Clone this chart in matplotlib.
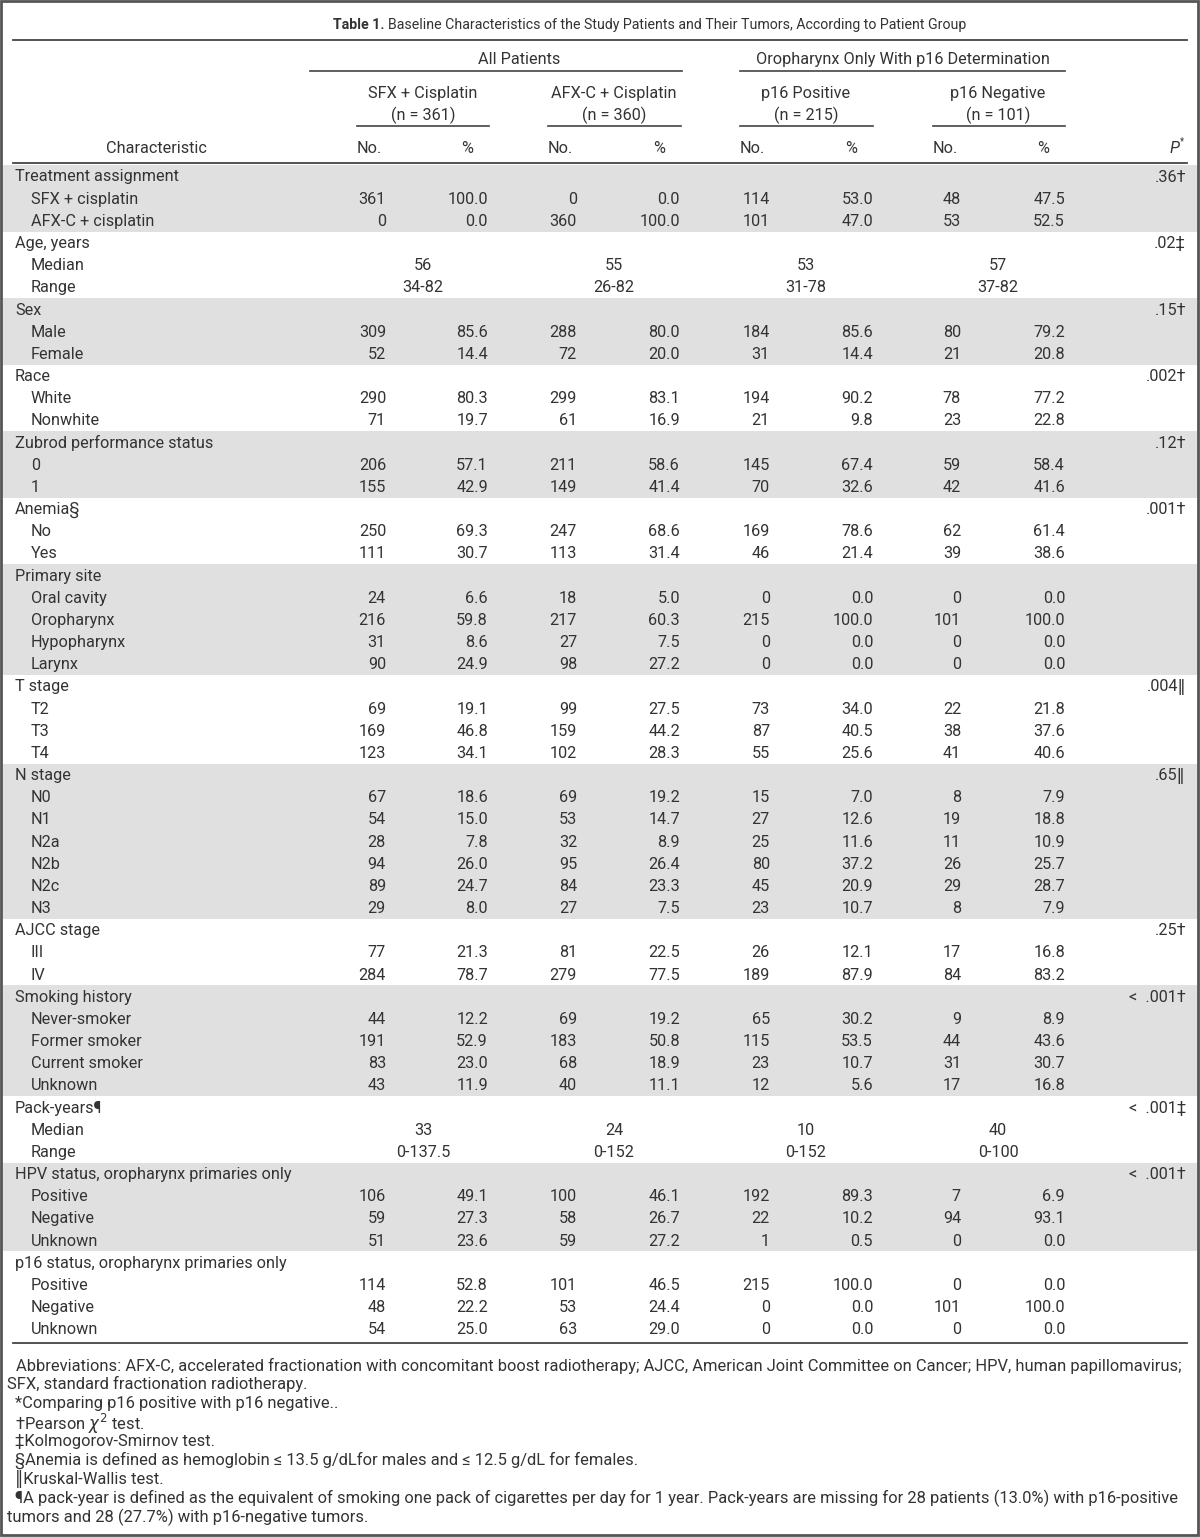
import matplotlib
matplotlib.use("Agg")
import matplotlib.pyplot as plt
from matplotlib.patches import Rectangle

plt.rcParams['font.family'] = ['Roboto', 'DejaVu Sans']

# ---- table content ----
groups = ["Treatment assignment", "Age, years", "Sex", "Race", "Zubrod performance status",
          "Anemia§", "Primary site", "T stage", "N stage", "AJCC stage", "Smoking history",
          "Pack-years¶", "HPV status, oropharynx primaries only", "p16 status, oropharynx primaries only"]
subrows = [["SFX + cisplatin", "AFX-C + cisplatin"], ["Median", "Range"], ["Male", "Female"],
           ["White", "Nonwhite"], ["0", "1"], ["No", "Yes"],
           ["Oral cavity", "Oropharynx", "Hypopharynx", "Larynx"], ["T2", "T3", "T4"],
           ["N0", "N1", "N2a", "N2b", "N2c", "N3"], ["III", "IV"],
           ["Never-smoker", "Former smoker", "Current smoker", "Unknown"], ["Median", "Range"],
           ["Positive", "Negative", "Unknown"], ["Positive", "Negative", "Unknown"]]
p_values = [".36†", ".02‡", ".15†", ".002†", ".12†", ".001†", "", ".004‖", ".65‖", ".25†",
            "<  .001†", "<  .001‡", "<  .001†", ""]

# summary-stat groups (median / range)
age_median = ["56", "55", "53", "57"]
age_range = ["34-82", "26-82", "31-78", "37-82"]
pack_median = ["33", "24", "10", "40"]
pack_range = ["0-137.5", "0-152", "0-152", "0-100"]

# count rows, in order (skipping the two median/range groups)
sfx_no = [361, 0, 309, 52, 290, 71, 206, 155, 250, 111, 24, 216, 31, 90, 69, 169, 123,
          67, 54, 28, 94, 89, 29, 77, 284, 44, 191, 83, 43, 106, 59, 51, 114, 48, 54]
sfx_pct = [100.0, 0.0, 85.6, 14.4, 80.3, 19.7, 57.1, 42.9, 69.3, 30.7, 6.6, 59.8, 8.6, 24.9,
           19.1, 46.8, 34.1, 18.6, 15.0, 7.8, 26.0, 24.7, 8.0, 21.3, 78.7, 12.2, 52.9, 23.0,
           11.9, 49.1, 27.3, 23.6, 52.8, 22.2, 25.0]
afx_no = [0, 360, 288, 72, 299, 61, 211, 149, 247, 113, 18, 217, 27, 98, 99, 159, 102,
          69, 53, 32, 95, 84, 27, 81, 279, 69, 183, 68, 40, 100, 58, 59, 101, 53, 63]
afx_pct = [0.0, 100.0, 80.0, 20.0, 83.1, 16.9, 58.6, 41.4, 68.6, 31.4, 5.0, 60.3, 7.5, 27.2,
           27.5, 44.2, 28.3, 19.2, 14.7, 8.9, 26.4, 23.3, 7.5, 22.5, 77.5, 19.2, 50.8, 18.9,
           11.1, 46.1, 26.7, 27.2, 46.5, 24.4, 29.0]
pos_no = [114, 101, 184, 31, 194, 21, 145, 70, 169, 46, 0, 215, 0, 0, 73, 87, 55,
          15, 27, 25, 80, 45, 23, 26, 189, 65, 115, 23, 12, 192, 22, 1, 215, 0, 0]
pos_pct = [53.0, 47.0, 85.6, 14.4, 90.2, 9.8, 67.4, 32.6, 78.6, 21.4, 0.0, 100.0, 0.0, 0.0,
           34.0, 40.5, 25.6, 7.0, 12.6, 11.6, 37.2, 20.9, 10.7, 12.1, 87.9, 30.2, 53.5, 10.7,
           5.6, 89.3, 10.2, 0.5, 100.0, 0.0, 0.0]
neg_no = [48, 53, 80, 21, 78, 23, 59, 42, 62, 39, 0, 101, 0, 0, 22, 38, 41,
          8, 19, 11, 26, 29, 8, 17, 84, 9, 44, 31, 17, 7, 94, 0, 0, 101, 0]
neg_pct = [47.5, 52.5, 79.2, 20.8, 77.2, 22.8, 58.4, 41.6, 61.4, 38.6, 0.0, 100.0, 0.0, 0.0,
           21.8, 37.6, 40.6, 7.9, 18.8, 10.9, 25.7, 28.7, 7.9, 16.8, 83.2, 8.9, 43.6, 30.7,
           16.8, 6.9, 93.1, 0.0, 0.0, 100.0, 0.0]

arm_titles = ["SFX + Cisplatin", "AFX-C + Cisplatin", "p16 Positive", "p16 Negative"]
arm_n = ["(n = 361)", "(n = 360)", "(n = 215)", "(n = 101)"]

footnotes = [
    (16, "Abbreviations: AFX-C, accelerated fractionation with concomitant boost radiotherapy; AJCC, American Joint Committee on Cancer; HPV, human papillomavirus;"),
    (7, "SFX, standard fractionation radiotherapy."),
    (15, "*Comparing p16 positive with p16 negative.."),
    (15, r"†Pearson $\chi^2$ test."),
    (15, "‡Kolmogorov-Smirnov test."),
    (15, "§Anemia is defined as hemoglobin ≤ 13.5 g/dLfor males and ≤ 12.5 g/dL for females."),
    (15, "‖Kruskal-Wallis test."),
    (15, "¶A pack-year is defined as the equivalent of smoking one pack of cigarettes per day for 1 year. Pack-years are missing for 28 patients (13.0%) with p16-positive"),
    (7, "tumors and 28 (27.7%) with p16-negative tumors."),
]

# ---- layout ----
W, H = 1200, 1537
fig = plt.figure(figsize=(W / 100, H / 100), dpi=100)
ax = fig.add_axes([0, 0, 1, 1])
ax.set_xlim(0, W)
ax.set_ylim(H, 0)
ax.axis('off')

txt = '#333333'
fs = 11.7
shade = '#e0e0e0'

arm_centers = [423, 614, 806, 998]
arm_spans = [(357, 489), (548, 681), (740, 873), (933, 1065)]
no_right = [386, 577, 770, 961]
pct_right = [488, 680, 873, 1065]
p_right = 1186

# border
ax.add_patch(Rectangle((1, 1), W - 3, H - 3, fill=False, edgecolor='#555555', lw=2))

# title
t1 = ax.text(333, 25, "Table 1.", fontsize=10.2, fontweight='bold', color=txt, va='center', ha='left')
fig.canvas.draw()
bb = t1.get_window_extent()
ax.text(333 + bb.width + 4, 25, "Baseline Characteristics of the Study Patients and Their Tumors, According to Patient Group",
        fontsize=10.2, color=txt, va='center', ha='left')

ax.plot([13, 1187], [40, 40], color='#444', lw=1.3)

# column headers
ax.text(519, 58, "All Patients", fontsize=fs, color=txt, ha='center', va='center_baseline')
ax.text(903, 58, "Oropharynx Only With p16 Determination", fontsize=fs, color=txt, ha='center', va='center_baseline')
ax.plot([310, 682], [71, 71], color='#444', lw=1.2)
ax.plot([740, 1065], [71, 71], color='#444', lw=1.2)
for c, (a, b), t, n in zip(arm_centers, arm_spans, arm_titles, arm_n):
    ax.text(c, 92, t, fontsize=fs, color=txt, ha='center', va='center_baseline')
    ax.text(c, 113, n, fontsize=fs, color=txt, ha='center', va='center_baseline')
    ax.plot([a, b], [126, 126], color='#444', lw=1.2)
    ax.text(a, 147, "No.", fontsize=fs, color=txt, ha='left', va='center_baseline')
    ax.text(b - 22, 147, "%", fontsize=fs, color=txt, ha='center', va='center_baseline')
ax.text(156, 147, "Characteristic", fontsize=fs, color=txt, ha='center', va='center_baseline')
ax.text(p_right - 6, 147, "P", fontsize=fs, color=txt, ha='right', va='center_baseline', style='italic')
ax.text(p_right - 6, 141, "*", fontsize=7, color=txt, ha='left', va='center')
ax.plot([13, 1187], [163, 163], color='#444', lw=1.3)

# body
y0, dy = 175.5, 22.17
row = 0
k = 0
for gi, (g, subs) in enumerate(zip(groups, subrows)):
    y_top = y0 + row * dy
    nrows = len(subs) + 1
    if gi % 2 == 0:
        ax.add_patch(Rectangle((3, y_top - 10.5), W - 6, nrows * dy, facecolor=shade,
                               edgecolor='none', zorder=0))
    ax.text(15, y_top, g, fontsize=fs, color=txt, ha='left', va='center_baseline')
    ax.text(p_right, y_top, p_values[gi], fontsize=fs, color=txt, ha='right', va='center_baseline')
    row += 1
    for si, s in enumerate(subs):
        y = y0 + row * dy
        ax.text(31, y, s, fontsize=fs, color=txt, ha='left', va='center_baseline')
        if g.startswith("Age") or g.startswith("Pack"):
            vals = (age_median, age_range) if g.startswith("Age") else (pack_median, pack_range)
            for c, v in zip(arm_centers, vals[si]):
                ax.text(c, y, v, fontsize=fs, color=txt, ha='center', va='center_baseline')
        else:
            nos = [sfx_no[k], afx_no[k], pos_no[k], neg_no[k]]
            pcts = [sfx_pct[k], afx_pct[k], pos_pct[k], neg_pct[k]]
            for xn, xp, n, p in zip(no_right, pct_right, nos, pcts):
                ax.text(xn, y, str(n), fontsize=fs, color=txt, ha='right', va='center_baseline')
                ax.text(xp, y, f"{p:.1f}", fontsize=fs, color=txt, ha='right', va='center_baseline')
            k += 1
        row += 1

ax.plot([13, 1187], [1343, 1343], color='#444', lw=1.3)

# footnotes
fy = 1364
for x, line in footnotes:
    ax.text(x, fy, line, fontsize=11.9, color=txt, ha='left', va='center_baseline')
    fy += 18.9

fig.savefig("out.png", dpi=100)
